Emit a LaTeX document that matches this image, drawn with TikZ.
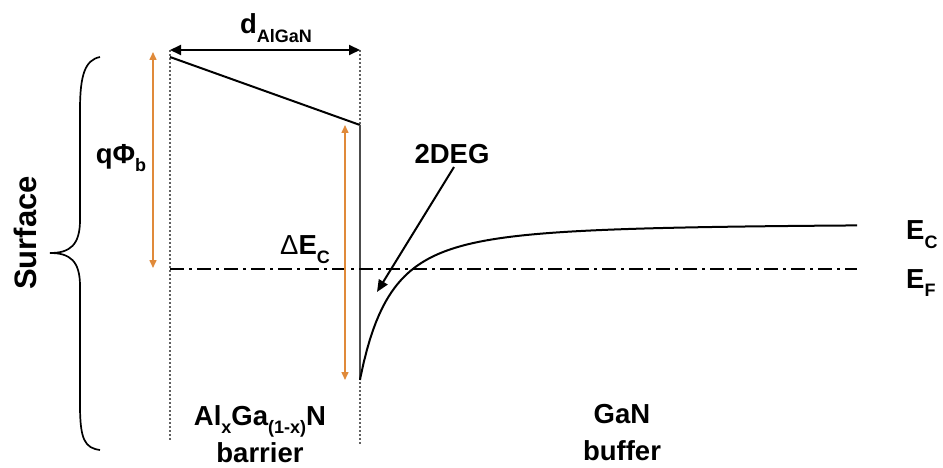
\documentclass[tikz,border=0pt]{standalone}
\usepackage{fontspec}
\setmainfont{Liberation Sans}
\usetikzlibrary{arrows.meta}
\definecolor{bandorange}{RGB}{224,138,58}
\newcommand{\lowsub}[1]{\raisebox{-0.32em}{\fontsize{18}{18}\selectfont #1}}
\tikzset{
  lbl/.style={font=\fontsize{27.5}{30}\selectfont\bfseries, inner sep=0pt},
  band/.style={line width=2pt, black},
  guide/.style={line width=1.5pt, black!62, dash pattern=on 2pt off 2pt},
  fermi/.style={line width=2pt, black, dash pattern=on 14pt off 5pt on 3pt off 5pt},
  energy/.style={line width=1.5pt, bandorange, {Triangle[length=8pt,width=7pt]}-{Triangle[length=8pt,width=7pt]}},
  dim/.style={line width=2pt, black, {Triangle[length=11pt,width=10pt]}-{Triangle[length=11pt,width=10pt]}},
  pointer/.style={line width=2pt, black, -{Triangle[length=12pt,width=10pt]}}
}
\begin{document}
\begin{tikzpicture}[x=1pt, y=-1pt]
  \useasboundingbox (0,0) rectangle (943,468);

  % key points of the band edges
  \coordinate (surf) at (170,57);
  \coordinate (ifTop) at (360,125);
  \coordinate (ifBot) at (360,380);
  \coordinate (efStart) at (170,269);
  \coordinate (efEnd) at (857,269);

  % layer boundaries
  \coordinate (lTop) at (170,50);
  \coordinate (lBot) at (170,440);
  \coordinate (rTop) at (360,50);
  \coordinate (rBot) at (360,445);
  \draw[guide] (lTop) -- (lBot);
  \draw[guide] (rTop) -- (rBot);

  % barrier thickness
  \draw[dim] (lTop) -- (rTop);
  \node[lbl] (dlab) at (276,28) {d\lowsub{AlGaN}};

  % conduction band: barrier slope, offset, GaN well
  \draw[band] (surf) -- (ifTop);
  \draw[line width=2pt, black!70] (ifTop) -- (ifBot);
  \draw[band] (ifBot) -- plot[domain=360.5:857, samples=160, variable=\u]
    (\u, {223.5 + 60*(100/(\u-298))^2});

  % Fermi level
  \draw[fermi] (efStart) -- (efEnd);

  % barrier height and band offset
  \coordinate (phiTop) at (153,52);
  \coordinate (phiBot) at (153,268);
  \draw[energy] (phiTop) -- (phiBot);
  \node[lbl] (philab) at (121,158) {qΦ\lowsub{b}};
  \coordinate (decTop) at (345,125);
  \coordinate (decBot) at (345,380);
  \draw[energy] (decTop) -- (decBot);
  \node[lbl, font=\fontsize{27.5}{30}\selectfont] (declab) at (305,250) {Δ\textbf{E}\lowsub{\textbf{C}}};

  % 2DEG pointer
  \node[lbl] (deg) at (452,154) {2DEG};
  \coordinate (degTail) at (454,167);
  \coordinate (degTip) at (377,292);
  \draw[pointer] (degTail) -- (degTip);

  % level names
  \node[lbl, anchor=base west] (eclab) at (906,240) {E\lowsub{C}};
  \node[lbl, anchor=base west] (eflab) at (906,288) {E\lowsub{F}};

  % surface brace
  \draw[line width=1.7pt, black] (100,57) .. controls (85,60) and (80,75) .. (80,110) -- (80,220)
    .. controls (80,245) and (70,253) .. (50,253)
    .. controls (70,253) and (80,261) .. (80,286) -- (80,405)
    .. controls (80,440) and (85,448) .. (100,450);
  \node[lbl, rotate=90, font=\fontsize{31}{33}\selectfont\bfseries] (surflab) at (25,233) {Surface};

  % layer names
  \node[lbl, anchor=base] (alg) at (260,425) {Al\lowsub{x}Ga\lowsub{(1-x)}N};
  \node[lbl, anchor=base] (bar) at (260,462) {barrier};
  \node[lbl, anchor=base] (gan) at (622,423) {GaN};
  \node[lbl, anchor=base] (buf) at (622,460) {buffer};
\end{tikzpicture}
\end{document}
